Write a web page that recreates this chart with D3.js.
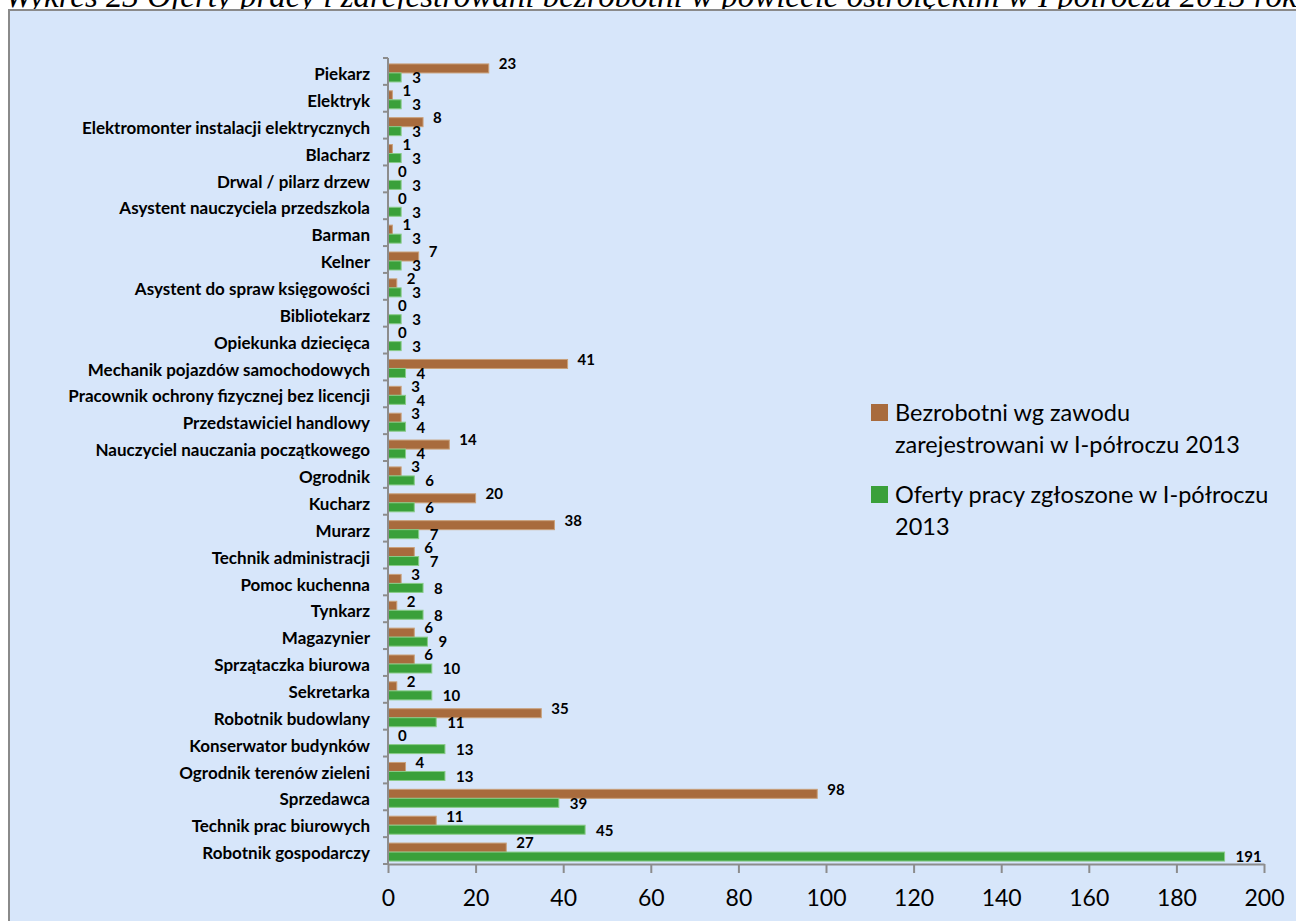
<!DOCTYPE html>
<html><head><meta charset="utf-8">
<script src="https://cdn.jsdelivr.net/npm/d3@7"></script>
<style>
html,body{margin:0;padding:0;background:#fff;}
svg{display:block;}
</style></head>
<body>
<svg id="chart" width="1296" height="921"></svg>
<script>
const categories = ["Piekarz","Elektryk","Elektromonter instalacji elektrycznych","Blacharz","Drwal / pilarz drzew","Asystent nauczyciela przedszkola","Barman","Kelner","Asystent do spraw księgowości","Bibliotekarz","Opiekunka dziecięca","Mechanik pojazdów samochodowych","Pracownik ochrony fizycznej bez licencji","Przedstawiciel handlowy","Nauczyciel nauczania początkowego","Ogrodnik","Kucharz","Murarz","Technik administracji","Pomoc kuchenna","Tynkarz","Magazynier","Sprzątaczka biurowa","Sekretarka","Robotnik budowlany","Konserwator budynków","Ogrodnik terenów zieleni","Sprzedawca","Technik prac biurowych","Robotnik gospodarczy"];
const bezrobotni = [23,1,8,1,0,0,1,7,2,0,0,41,3,3,14,3,20,38,6,3,2,6,6,2,35,0,4,98,11,27];
const oferty = [3,3,3,3,3,3,3,3,3,3,3,4,4,4,4,6,6,7,7,8,8,9,10,10,11,13,13,39,45,191];
const seriesNames = ["Bezrobotni wg zawodu zarejestrowani w I-półroczu 2013","Oferty pracy zgłoszone w I-półroczu 2013"];
const legendLines = [["Bezrobotni wg zawodu","zarejestrowani w I-półroczu 2013"],["Oferty pracy zgłoszone w I-półroczu","2013"]];
const xTicks = [0,20,40,60,80,100,120,140,160,180,200];
const title = "Wykres 23 Oferty pracy i zarejestrowani bezrobotni w powiecie ostrołęckim w I półroczu 2013 roku";

const svg = d3.select("#chart");
const font = "Lato, 'Open Sans', sans-serif";
const colB = "#A86B3D", colBs = "#C9A07A";
const colO = "#3AA03A", colOs = "#88CB88";

// title (partly cut at top)
svg.append("text").attr("x",5).attr("y",7)
  .attr("font-family","'Liberation Serif', serif").attr("font-style","italic")
  .attr("font-size",33).attr("fill","#000").text(title);

// chart area box
svg.append("rect").attr("x",9).attr("y",10).attr("width",1300).attr("height",930)
  .attr("fill","#D7E6FA").attr("stroke","#8A8A8A").attr("stroke-width",2);

const x = d3.scaleLinear().domain([0,200]).range([388,1264]);
const y = d3.scaleBand().domain(categories).range([59.5,865.5]).paddingInner(0.33).paddingOuter(0.165);
const ySub = d3.scaleBand().domain(["b","o"]).range([0,y.bandwidth()]);

const data = categories.map((c,i)=>({c, b:bezrobotni[i], o:oferty[i]}));

const g = svg.append("g");
// bars
g.selectAll(".barB").data(data).join("rect")
  .attr("x",x(0)).attr("y",d=>y(d.c)+ySub("b"))
  .attr("width",d=>x(d.b)-x(0)).attr("height",ySub.bandwidth())
  .attr("fill",colB).attr("stroke",d=>d.b>0?colBs:"none").attr("stroke-width",1);
g.selectAll(".barO").data(data).join("rect")
  .attr("x",x(0)).attr("y",d=>y(d.c)+ySub("o"))
  .attr("width",d=>x(d.o)-x(0)).attr("height",ySub.bandwidth())
  .attr("fill",colO).attr("stroke",colOs).attr("stroke-width",1);

// value labels
g.selectAll(".lblB").data(data).join("text")
  .attr("x",d=>x(d.b)+10).attr("y",d=>y(d.c)+ySub("b")+ySub.bandwidth()/2-3)
  .attr("dominant-baseline","middle")
  .attr("font-family",font).attr("font-weight","bold").attr("font-size",15)
  .text(d=>d.b);
g.selectAll(".lblO").data(data).join("text")
  .attr("x",d=>x(d.o)+11).attr("y",d=>y(d.c)+ySub("o")+ySub.bandwidth()/2+2)
  .attr("dominant-baseline","middle")
  .attr("font-family",font).attr("font-weight","bold").attr("font-size",15)
  .text(d=>d.o);

// y axis
const yAxis = svg.append("g").attr("transform",`translate(${x(0)},0)`)
  .call(d3.axisLeft(y).tickSize(0).tickSizeOuter(0).tickPadding(18));
yAxis.select(".domain").attr("stroke","#8C8C8C").attr("stroke-width",2)
  .attr("d",`M0,${y.range()[0]-1.5}V${y.range()[1]-1.5}`);
yAxis.selectAll(".tick text").attr("font-family",font).attr("font-weight","bold")
  .attr("font-size",17).attr("fill","#000").attr("dy","0.42em");
const bounds = d3.range(categories.length+1).map(i=>y.range()[0]-1.5+i*y.step());
yAxis.selectAll(".btick").data(bounds).join("line")
  .attr("x1",-5).attr("x2",0).attr("y1",d=>d).attr("y2",d=>d)
  .attr("stroke","#8C8C8C").attr("stroke-width",2);

// x axis
const xAxis = svg.append("g").attr("transform",`translate(0,${y.range()[1]-1.5})`)
  .call(d3.axisBottom(x).tickValues(xTicks).tickSize(9).tickSizeOuter(0).tickPadding(17));
xAxis.select(".domain").attr("stroke","#8C8C8C").attr("stroke-width",2);
xAxis.selectAll(".tick line").attr("stroke","#8C8C8C").attr("stroke-width",2);
xAxis.selectAll(".tick text").attr("font-family",font).attr("font-size",23).attr("fill","#000");

// legend
const legend = svg.append("g");
const legY = [404, 486];
[colB,colO].forEach((c,i)=>{
  legend.append("rect").attr("x",871).attr("y",legY[i]).attr("width",17).attr("height",17).attr("fill",c);
  legendLines[i].forEach((ln,j)=>{
    legend.append("text").attr("x",895).attr("y",legY[i]+17+j*32)
      .attr("font-family",font).attr("font-size",23.5).attr("fill","#000").text(ln);
  });
});
</script>
</body></html>
